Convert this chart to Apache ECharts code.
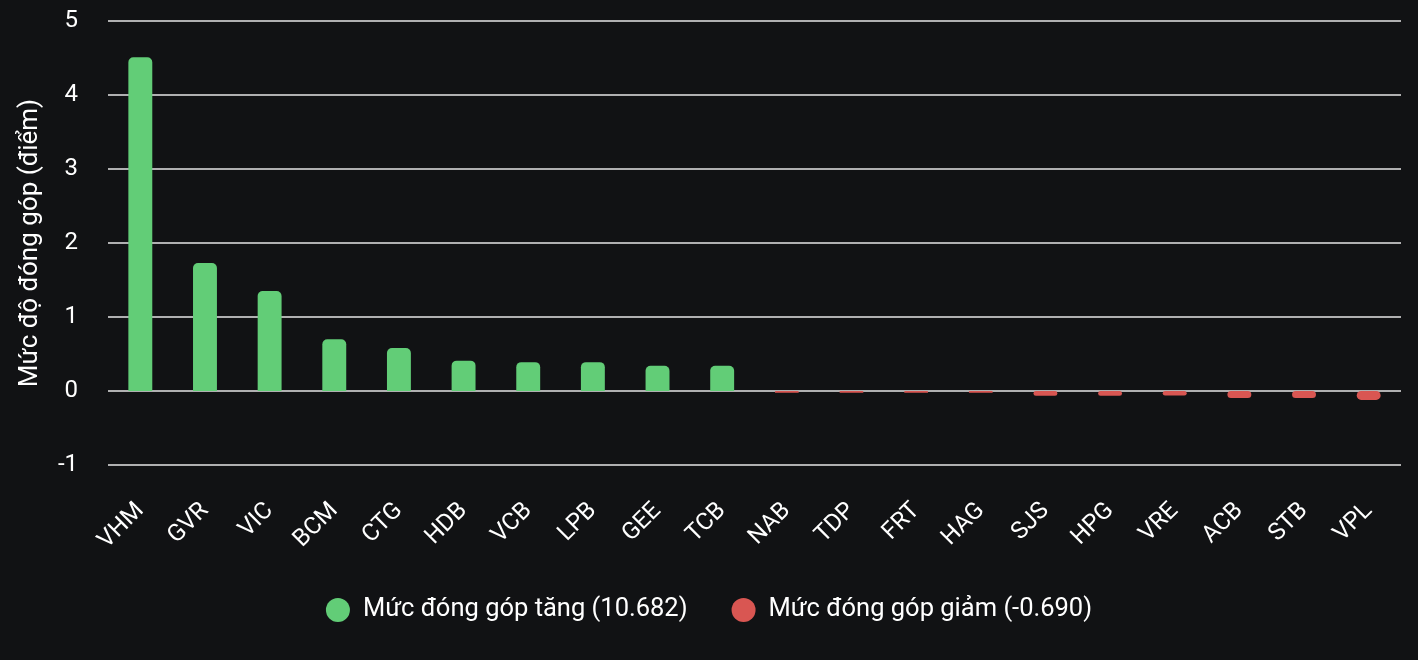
<!DOCTYPE html>
<html>
<head>
<meta charset="utf-8">
<script src="https://cdn.jsdelivr.net/npm/echarts@6/dist/echarts.min.js"></script>
<style>
  html, body { margin: 0; padding: 0; background: #111214; }
  #chart { width: 1418px; height: 660px; }
</style>
</head>
<body>
<div id="chart"></div>
<script>
// mã cổ phiếu
const categories = ['VHM', 'GVR', 'VIC', 'BCM', 'CTG', 'HDB', 'VCB', 'LPB', 'GEE', 'TCB',
    'NAB', 'TDP', 'FRT', 'HAG', 'SJS', 'HPG', 'VRE', 'ACB', 'STB', 'VPL'];
// mức đóng góp tăng / giảm (điểm)
const upValues = [4.51, 1.73, 1.35, 0.70, 0.58, 0.41, 0.39, 0.39, 0.34, 0.34,
    null, null, null, null, null, null, null, null, null, null];
const downValues = [null, null, null, null, null, null, null, null, null, null,
    -0.025, -0.025, -0.025, -0.025, -0.065, -0.065, -0.06, -0.095, -0.095, -0.12];
const upTotal = '10.682';
const downTotal = '-0.690';
const yTicks = [-1, 0, 1, 2, 3, 4, 5];

const font = 'Roboto, "Noto Sans", sans-serif';
const green = '#62cd77';
const red = '#d95652';

let myChart = echarts.init(document.getElementById('chart'));
let option = {
    backgroundColor: '#111214',
    textStyle: { fontFamily: font },
    grid: { left: 108, right: 17, top: 21, bottom: 195 },
    legend: {
        bottom: 32,
        left: 'center',
        icon: 'circle',
        itemWidth: 24,
        itemHeight: 24,
        itemGap: 44,
        textStyle: { color: '#ffffff', fontSize: 25.5, fontFamily: font, padding: [0, 0, 0, 8] },
        data: ['Mức đóng góp tăng (' + upTotal + ')', 'Mức đóng góp giảm (' + downTotal + ')']
    },
    xAxis: {
        type: 'category',
        data: categories,
        axisLine: { show: false },
        axisTick: { show: false },
        axisLabel: {
            rotate: 45,
            interval: 0,
            margin: 42,
            color: '#ffffff',
            fontSize: 24,
            fontFamily: font
        }
    },
    yAxis: {
        type: 'value',
        min: yTicks[0],
        max: yTicks[yTicks.length - 1],
        interval: 1,
        name: 'Mức độ đóng góp (điểm)',
        nameLocation: 'middle',
        nameRotate: 90,
        nameGap: 65,
        nameTextStyle: { color: '#ffffff', fontSize: 26, fontFamily: font },
        axisLine: { show: false },
        axisTick: { show: false },
        axisLabel: { color: '#ffffff', fontSize: 24, margin: 30, fontFamily: font },
        splitLine: { lineStyle: { color: '#e6e6e6', width: 1.5 } }
    },
    series: [{
        name: 'Mức đóng góp tăng (' + upTotal + ')',
        type: 'bar',
        stack: 'total',
        data: upValues,
        barWidth: '37%',
        itemStyle: { color: green, borderRadius: [5, 5, 0, 0] }
    }, {
        name: 'Mức đóng góp giảm (' + downTotal + ')',
        type: 'bar',
        stack: 'total',
        data: downValues,
        barWidth: '37%',
        itemStyle: { color: red, borderRadius: [5, 5, 5, 5] }
    }]
};
myChart.setOption(option);
</script>
</body>
</html>
